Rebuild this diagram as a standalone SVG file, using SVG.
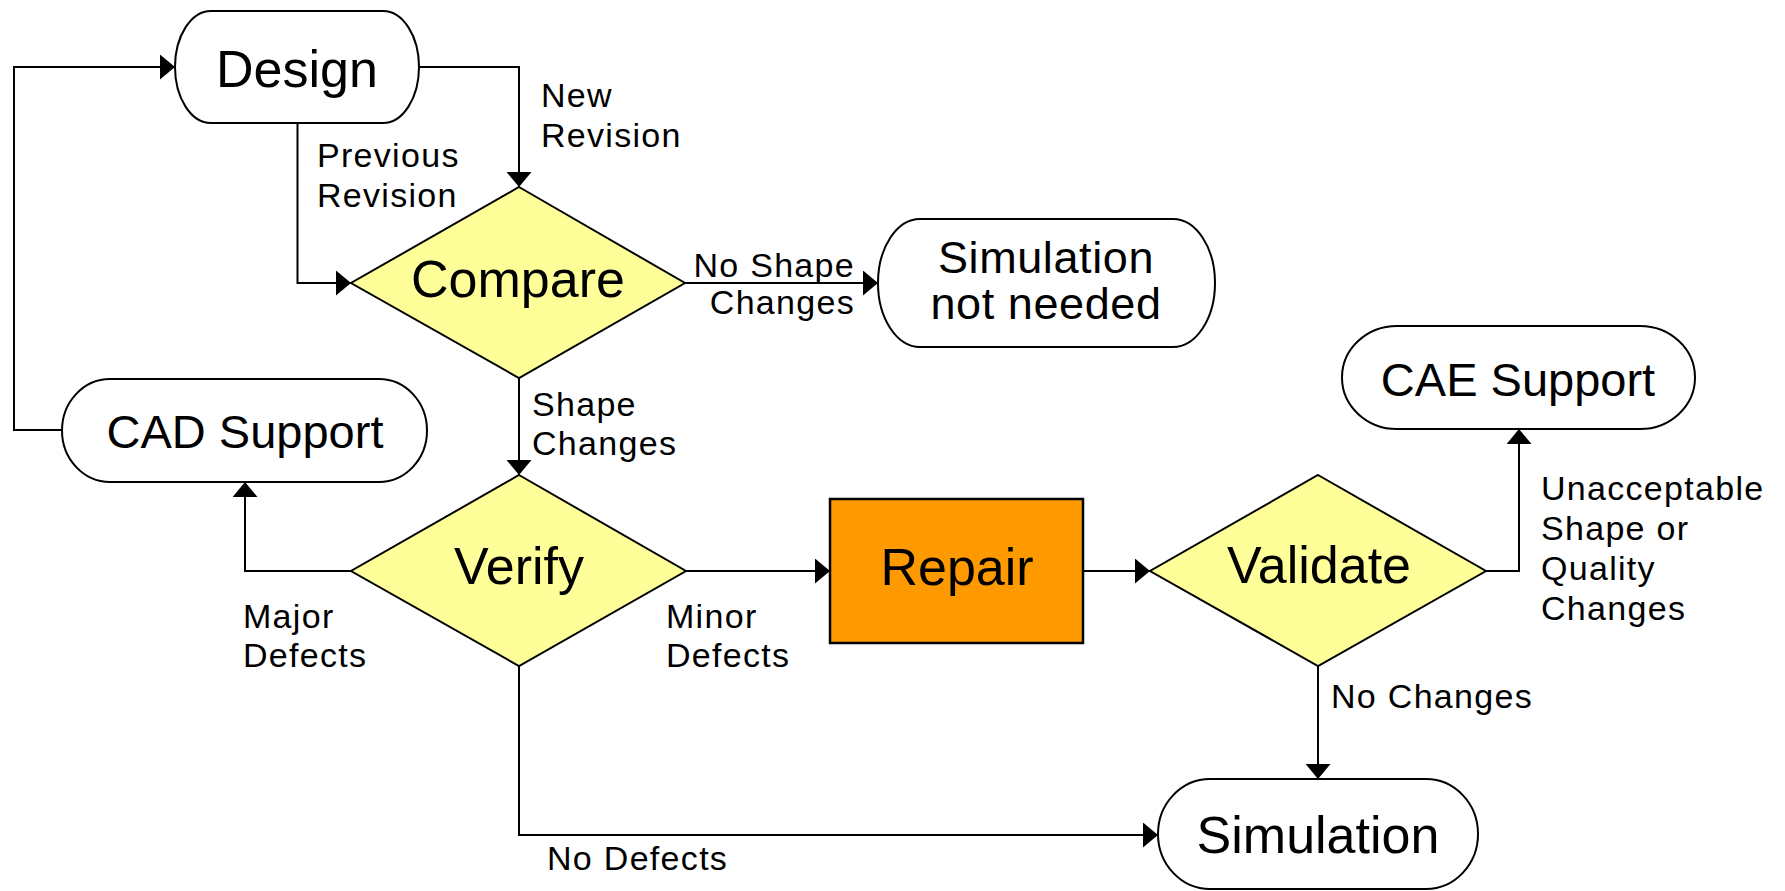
<svg xmlns="http://www.w3.org/2000/svg" width="1785" height="891" viewBox="0 0 1785 891">
  <style>
    .term { fill: #ffffff; stroke: #000000; stroke-width: 2; }
    .dec { fill: #ffff99; stroke: #000000; stroke-width: 2; }
    .proc { fill: #ff9900; stroke: #000000; stroke-width: 2.5; }
    .conn { fill: none; stroke: #000000; stroke-width: 2; marker-end: url(#arrow); }
    text { font-family: "Liberation Sans", Arial, sans-serif; fill: #000000; }
    .big { font-size: 52px; text-anchor: middle; }
    .mid { font-size: 47px; text-anchor: middle; }
    .two { font-size: 45px; letter-spacing: 0.6px; text-anchor: middle; }
    .lbl { font-size: 34px; letter-spacing: 1.3px; }
    .lbl-end { font-size: 34px; letter-spacing: 1.3px; text-anchor: end; }
  </style>
  <defs>
    <marker id="arrow" markerUnits="userSpaceOnUse" markerWidth="15" markerHeight="25" refX="15" refY="12.5" orient="auto">
      <path d="M0,0 L15,12.5 L0,25 Z" fill="#000000"/>
    </marker>
  </defs>

  <rect width="1785" height="891" fill="#ffffff"/>

  <!-- connectors -->
  <g id="connectors">
    <path class="conn" d="M62,430 H14 V67 H175"/>
    <path class="conn" d="M419,67 H519 V187"/>
    <path class="conn" d="M297.5,123 V283 H351"/>
    <path class="conn" d="M685,283 H878"/>
    <path class="conn" d="M519,378 V475"/>
    <path class="conn" d="M351,571 H245 V482"/>
    <path class="conn" d="M686,571 H830"/>
    <path class="conn" d="M1083,571 H1150"/>
    <path class="conn" d="M1486,571 H1519 V429"/>
    <path class="conn" d="M1318,666 V779"/>
    <path class="conn" d="M519,666 V835 H1158"/>
  </g>

  <!-- connector labels -->
  <g id="labels">
    <text class="lbl" x="541" y="107">New</text>
    <text class="lbl" x="541" y="147">Revision</text>
    <text class="lbl" x="317" y="167">Previous</text>
    <text class="lbl" x="317" y="207">Revision</text>
    <text class="lbl-end" x="855" y="277">No Shape</text>
    <text class="lbl-end" x="855" y="314">Changes</text>
    <text class="lbl" x="532" y="416">Shape</text>
    <text class="lbl" x="532" y="455">Changes</text>
    <text class="lbl" x="243" y="628">Major</text>
    <text class="lbl" x="243" y="667">Defects</text>
    <text class="lbl" x="666" y="628">Minor</text>
    <text class="lbl" x="666" y="667">Defects</text>
    <text class="lbl" x="1541" y="500">Unacceptable</text>
    <text class="lbl" x="1541" y="540">Shape or</text>
    <text class="lbl" x="1541" y="580">Quality</text>
    <text class="lbl" x="1541" y="620">Changes</text>
    <text class="lbl" x="1331" y="708">No Changes</text>
    <text class="lbl" x="547" y="870">No Defects</text>
  </g>

  <!-- nodes -->
  <g id="design">
    <rect class="term" x="175" y="11" width="244" height="112" rx="36" ry="56"/>
    <text class="big" x="297" y="87">Design</text>
  </g>
  <g id="compare">
    <polygon class="dec" points="519,187 685,283 519,378 351,283"/>
    <text class="big" x="518" y="297">Compare</text>
  </g>
  <g id="simulation-not-needed">
    <rect class="term" x="878" y="219" width="337" height="128" rx="42" ry="64"/>
    <text class="two" x="1046" y="273">Simulation</text>
    <text class="two" x="1046" y="319">not needed</text>
  </g>
  <g id="cad-support">
    <rect class="term" x="62" y="379" width="365" height="103" rx="48" ry="51.5"/>
    <text class="mid" x="245" y="448">CAD Support</text>
  </g>
  <g id="verify">
    <polygon class="dec" points="519,475 686,571 519,666 351,571"/>
    <text class="big" x="519" y="584">Verify</text>
  </g>
  <g id="repair">
    <rect class="proc" x="830" y="499" width="253" height="144"/>
    <text class="big" x="957" y="585">Repair</text>
  </g>
  <g id="validate">
    <polygon class="dec" points="1318,475 1486,571 1318,666 1150,571"/>
    <text class="big" x="1319" y="583">Validate</text>
  </g>
  <g id="cae-support">
    <rect class="term" x="1342" y="326" width="353" height="103" rx="55" ry="51.5"/>
    <text class="mid" x="1518" y="396">CAE Support</text>
  </g>
  <g id="simulation">
    <rect class="term" x="1158" y="779" width="320" height="110" rx="52" ry="55"/>
    <text class="big" x="1318" y="853">Simulation</text>
  </g>
</svg>
